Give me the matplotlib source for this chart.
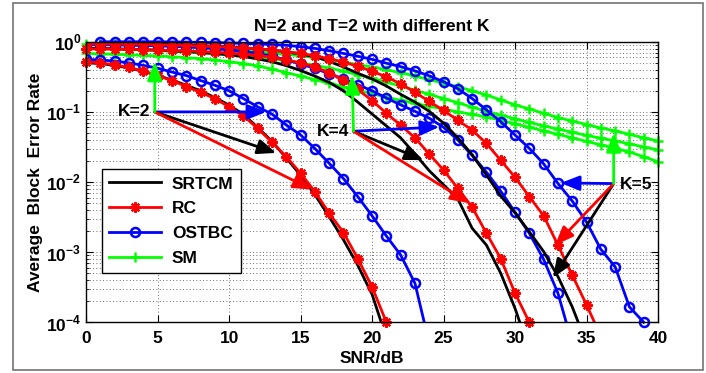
import numpy as np
import matplotlib
matplotlib.use("Agg")
import matplotlib.pyplot as plt
from matplotlib.patches import Rectangle
from matplotlib.ticker import LogLocator, FixedLocator, FuncFormatter, NullFormatter

plt.rcParams["font.family"] = ["Liberation Sans", "DejaVu Sans"]
plt.rcParams["font.weight"] = "bold"
plt.rcParams["mathtext.fontset"] = "custom"
plt.rcParams["mathtext.rm"] = "Liberation Sans:bold"
plt.rcParams["mathtext.bf"] = "Liberation Sans:bold"

# ---- data (SNR in dB, average block error rate) ----
snr_k2_rc = list(range(0, 22))
rc_k2 = [0.52, 0.50, 0.47, 0.43, 0.38, 0.33, 0.28, 0.23, 0.19, 0.155, 0.118,
         0.088, 0.058, 0.037, 0.023, 0.0133, 0.0073, 0.0036, 0.0019, 8.1e-4,
         3.2e-4, 1.0e-4]
snr_k2_srtcm = list(range(0, 22))
srtcm_k2 = [0.50, 0.49, 0.46, 0.42, 0.38, 0.33, 0.285, 0.24, 0.20, 0.16, 0.125,
            0.092, 0.060, 0.038, 0.022, 0.0125, 0.0066, 0.0032, 0.0015, 6.5e-4,
            2.5e-4, 6e-5]
snr_k2_ostbc = list(range(0, 25))
ostbc_k2 = [0.56, 0.55, 0.53, 0.50, 0.46, 0.42, 0.37, 0.33, 0.28, 0.24, 0.20,
            0.155, 0.118, 0.093, 0.065, 0.047, 0.030, 0.0185, 0.0112, 0.0062,
            0.0033, 0.0017, 9.1e-4, 3.6e-4, 5e-5]

snr_sm = list(range(0, 41))
sm_k2 = [0.681, 0.673, 0.664, 0.653, 0.641, 0.628, 0.612, 0.594, 0.574, 0.550,
         0.519, 0.490, 0.452, 0.407, 0.363, 0.324, 0.288, 0.257, 0.229, 0.204,
         0.182, 0.162, 0.146, 0.132, 0.120, 0.110, 0.100, 0.0923, 0.0851,
         0.0759, 0.0676, 0.0603, 0.0537, 0.0479, 0.0427, 0.0380, 0.0339,
         0.0302, 0.0269, 0.0229, 0.0195]
sm_k4 = [0.80, 0.794, 0.785, 0.776, 0.764, 0.750, 0.733, 0.715, 0.695, 0.673,
         0.650, 0.625, 0.600, 0.575, 0.537, 0.501, 0.462, 0.422, 0.380, 0.339,
         0.302, 0.266, 0.234, 0.204, 0.178, 0.155, 0.135, 0.117, 0.102,
         0.0902, 0.0794, 0.0708, 0.0631, 0.0569, 0.0513, 0.0462, 0.0422,
         0.0385, 0.0351, 0.0316, 0.0288]
sm_k5 = [0.933, 0.927, 0.918, 0.908, 0.895, 0.881, 0.863, 0.843, 0.822, 0.800,
         0.776, 0.750, 0.721, 0.692, 0.661, 0.631, 0.596, 0.556, 0.513, 0.473,
         0.437, 0.398, 0.363, 0.324, 0.288, 0.257, 0.229, 0.200, 0.174, 0.148,
         0.126, 0.110, 0.0955, 0.0832, 0.0741, 0.0661, 0.0589, 0.0537, 0.0479,
         0.0427, 0.0385]

snr_k4_ostbc = list(range(0, 35))
ostbc_k4 = [0.912, 0.908, 0.902, 0.895, 0.887, 0.877, 0.865, 0.847, 0.826,
            0.800, 0.767, 0.728, 0.682, 0.624, 0.550, 0.484, 0.417, 0.351,
            0.295, 0.245, 0.200, 0.158, 0.126, 0.102, 0.0813, 0.0603, 0.0398,
            0.0240, 0.0138, 0.00741, 0.00372, 0.00186, 7.9e-4, 2.6e-4, 5e-5]
snr_k4_rc = list(range(0, 32))
rc_k4 = [0.794, 0.791, 0.785, 0.780, 0.773, 0.764, 0.753, 0.741, 0.728, 0.711,
         0.692, 0.668, 0.638, 0.603, 0.550, 0.501, 0.437, 0.363, 0.282, 0.209,
         0.145, 0.0955, 0.0646, 0.0427, 0.0251, 0.0148, 0.00813, 0.00437,
         0.00186, 8.1e-4, 2.6e-4, 1.0e-4]
snr_k4_srtcm = list(range(0, 32))
srtcm_k4 = [0.813, 0.804, 0.794, 0.783, 0.771, 0.759, 0.741, 0.724, 0.705,
            0.681, 0.653, 0.617, 0.569, 0.519, 0.457, 0.389, 0.324, 0.263,
            0.200, 0.138, 0.0933, 0.0631, 0.0427, 0.0251, 0.0145, 0.00912,
            0.00575, 0.00219, 0.00126, 5.0e-4, 1.58e-4, 4.0e-5]

snr_k5_ostbc = list(range(1, 40))
ostbc_k5 = [1.0, 1.0, 1.0, 1.0, 1.0, 0.995, 0.989, 0.982, 0.973, 0.962, 0.948,
            0.933, 0.916, 0.891, 0.851, 0.805, 0.745, 0.682, 0.622, 0.562,
            0.495, 0.442, 0.385, 0.327, 0.269, 0.214, 0.155, 0.107, 0.0724,
            0.0468, 0.0302, 0.0182, 0.00955, 0.00537, 0.00269, 0.0011, 6.2e-4,
            1.66e-4, 1.0e-4]
snr_k5_rc = list(range(0, 37))
rc_k5 = [0.944, 0.940, 0.933, 0.927, 0.918, 0.908, 0.897, 0.885, 0.871, 0.855,
         0.838, 0.817, 0.794, 0.764, 0.724, 0.682, 0.631, 0.575, 0.513, 0.447,
         0.380, 0.316, 0.251, 0.191, 0.141, 0.105, 0.0759, 0.0550, 0.0355,
         0.0204, 0.0117, 0.00617, 0.00331, 0.00126, 4.7e-4, 1.78e-4, 6.3e-5]
snr_k5_srtcm = list(range(0, 36))
srtcm_k5 = [0.955, 0.951, 0.944, 0.938, 0.929, 0.920, 0.910, 0.897, 0.883,
            0.867, 0.847, 0.822, 0.794, 0.759, 0.716, 0.668, 0.610, 0.525,
            0.437, 0.355, 0.295, 0.234, 0.178, 0.138, 0.102, 0.0692, 0.0427,
            0.0245, 0.0126, 0.00631, 0.00363, 0.00195, 0.00102, 4.5e-4,
            1.66e-4, 5.0e-5]

labels = ["SRTCM", "RC", "OSTBC", "SM"]
x_ticks = [0, 5, 10, 15, 20, 25, 30, 35, 40]

# annotation anchors: label position, arrow start, arrow tips
k2_text = (3.35, 0.1)
k2_start = (4.8, 0.1)
k2_tips = {"b": (12.6, 0.1), "k": (13.3, 0.026), "r": (15.8, 0.0078), "g": (4.8, 0.52)}
k4_text = (17.3, 0.052)
k4_start = (18.7, 0.053)
k4_tips = {"b": (24.7, 0.061), "k": (23.6, 0.0205), "r": (26.8, 0.005), "g": (18.6, 0.335)}
k5_text = (38.5, 0.0092)
k5_start = (36.9, 0.0095)
k5_tips = {"b": (33.2, 0.0097), "k": (32.65, 4.3e-4), "r": (32.8, 0.00126), "g": (36.9, 0.05)}

# ---- figure ----
fig = plt.figure(figsize=(7.06, 3.73), dpi=100)
ax = fig.add_axes([0.122, 0.136, 0.81, 0.752])

RED = "#ff0000"
BLUE = "#0000ff"
GREEN = "#00ff00"
lw = 2.0
star = (8, 2, 0)

def rc_line(x, y, clip=True):
    return ax.plot(x, y, color=RED, lw=lw, marker=star, ms=7.5, mew=1.6, clip_on=clip)[0]

def ostbc_line(x, y, clip=True):
    return ax.plot(x, y, color=BLUE, lw=lw, marker="o", ms=6.5, mew=1.8,
                   mfc="none", clip_on=clip)[0]

def sm_line(x, y):
    return ax.plot(x, y, color=GREEN, lw=lw, marker="+", ms=6.5, mew=1.8, clip_on=False)[0]

def srtcm_line(x, y):
    return ax.plot(x, y, color="k", lw=lw)[0]

h_sm = sm_line(snr_sm, sm_k2)
sm_line(snr_sm, sm_k4)
sm_line(snr_sm, sm_k5)

h_ost = ostbc_line(snr_k2_ostbc, ostbc_k2)
ostbc_line(snr_k4_ostbc, ostbc_k4)
ostbc_line(snr_k5_ostbc, ostbc_k5, clip=False)

h_srt = srtcm_line(snr_k2_srtcm, srtcm_k2)
srtcm_line(snr_k4_srtcm, srtcm_k4)
srtcm_line(snr_k5_srtcm, srtcm_k5)

h_rc = rc_line(snr_k2_rc, rc_k2, clip=False)
rc_line(snr_k4_rc, rc_k4, clip=False)
rc_line(snr_k5_rc, rc_k5)

ax.set_yscale("log")
ax.set_xlim(0, 40)
ax.set_ylim(1e-4, 1)
ax.xaxis.set_major_locator(FixedLocator(x_ticks))
ax.yaxis.set_major_locator(LogLocator(base=10, numticks=10))
ax.yaxis.set_minor_locator(LogLocator(base=10, subs=np.arange(2, 10), numticks=10))
ax.yaxis.set_minor_formatter(NullFormatter())
ax.yaxis.set_major_formatter(FuncFormatter(lambda v, p: r"$10^{%d}$" % int(round(np.log10(v)))))
ax.tick_params(which="both", direction="in", top=True, right=True, labelsize=12.5)
ax.tick_params(axis="x", pad=6)
ax.tick_params(which="major", length=5, width=0.8)
ax.tick_params(which="minor", length=2.5, width=0.6)
for lab in ax.get_xticklabels():
    lab.set_fontweight("bold")
ax.grid(True, which="major", axis="both", color="0.25", lw=0.6, ls=(0, (1, 3)))
ax.grid(True, which="minor", axis="y", color="0.25", lw=0.6, ls=(0, (1, 3)))
for s in ax.spines.values():
    s.set_linewidth(1.0)

ax.set_title("N=2 and T=2 with different K", fontsize=12.5, fontweight="bold", pad=8)
ax.set_xlabel("SNR/dB", fontsize=12.5, fontweight="bold", labelpad=4)
ax.set_ylabel("Average  Block  Error Rate", fontsize=12.5, fontweight="bold", labelpad=2)

leg = ax.legend([h_srt, h_rc, h_ost, h_sm], labels, loc="upper left",
                bbox_to_anchor=(0.027, 0.548), borderaxespad=0, fancybox=False,
                framealpha=1, edgecolor="k", fontsize=12.5, handlelength=3.0,
                labelspacing=0.55, borderpad=0.45, handletextpad=0.6)
leg.get_frame().set_linewidth(1.0)
for t in leg.get_texts():
    t.set_fontweight("bold")

colors = {"b": BLUE, "k": "k", "r": RED, "g": GREEN}

def group(text, label_xy, start, tips):
    ax.text(label_xy[0], label_xy[1], text, ha="center", va="center",
            fontsize=12.5, fontweight="bold", zorder=6)
    for key, tip in tips.items():
        ax.annotate("", xy=tip, xytext=start,
                    arrowprops=dict(arrowstyle="-|>,head_length=0.8,head_width=0.32",
                                    color=colors[key], lw=2, shrinkA=0, shrinkB=0,
                                    mutation_scale=14),
                    zorder=6)

group("K=2", k2_text, k2_start, k2_tips)
group("K=4", k4_text, k4_start, k4_tips)
group("K=5", k5_text, k5_start, k5_tips)

fig.patches.append(Rectangle((13 / 706, 3 / 373), 690 / 706, 367 / 373,
                             transform=fig.transFigure, fill=False,
                             edgecolor="0.45", lw=1.2))

fig.savefig("out.png", dpi=100)
